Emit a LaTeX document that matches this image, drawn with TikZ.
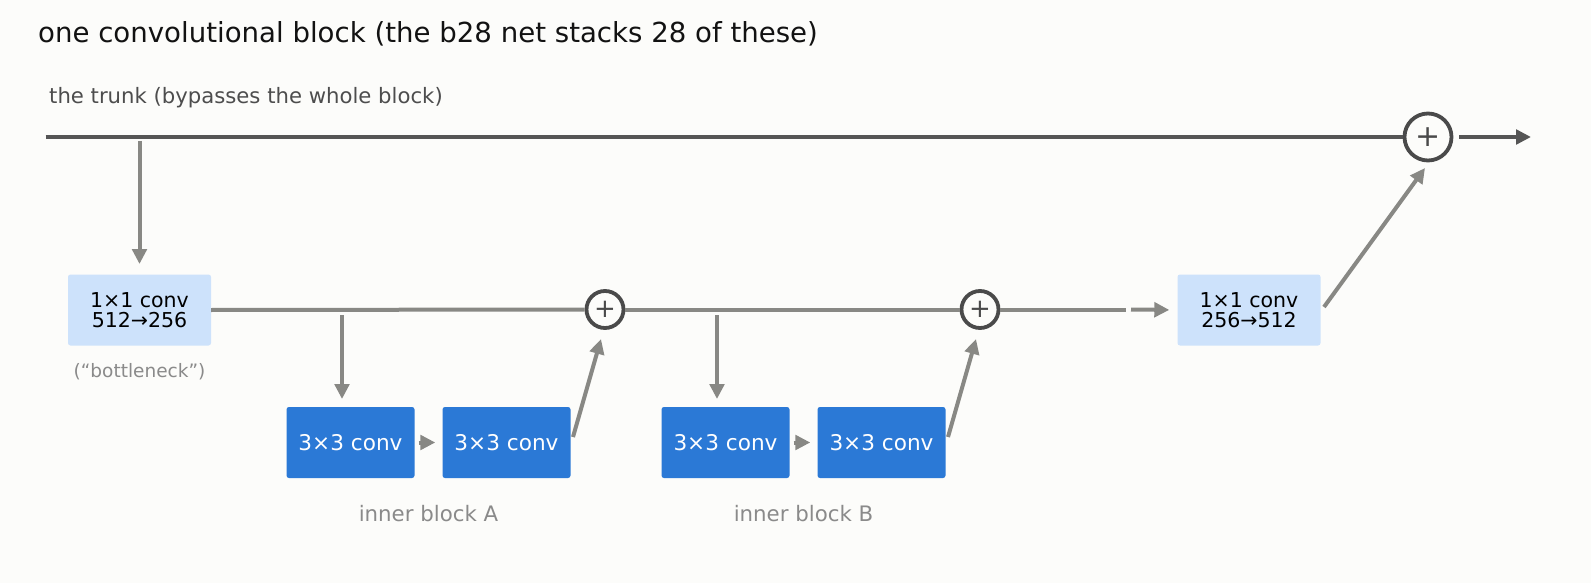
\documentclass[tikz,border=0pt]{standalone}
\usepackage{fontspec}
\setmainfont{DejaVu Sans}
\usetikzlibrary{arrows.meta}
\definecolor{bg}{HTML}{FCFCFA}
\definecolor{trunkc}{HTML}{555555}
\definecolor{grayc}{HTML}{888884}
\definecolor{ringc}{HTML}{4A4A4A}
\definecolor{lightb}{HTML}{CDE2FB}
\definecolor{darkb}{HTML}{2B79D6}
\definecolor{labgray}{HTML}{8A8A8A}
\definecolor{trunklab}{HTML}{4D4D4D}
\newcommand{\fsz}[1]{\fontsize{#1}{#1}\selectfont}
\begin{document}
\begin{tikzpicture}[x=1pt,y=-1pt,
  tipg/.style={-{Triangle[length=15pt,width=14.5pt]}},
  conn/.style={draw=grayc,line width=4pt},
  lightbox/.style={fill=lightb,rounded corners=2.5pt,minimum width=143pt,minimum height=71pt,inner sep=0pt,align=center,text=black,font=\fsz{20.5}},
  darkbox/.style={fill=darkb,rounded corners=2.5pt,minimum width=128pt,minimum height=71pt,inner sep=0pt,text=white,font=\fsz{21.6}},
  sumsmall/.style={circle,draw=ringc,line width=3.8pt,fill=bg,minimum size=37pt,inner sep=0pt,font=\fsz{26},text=ringc},
  sumbig/.style={circle,draw=ringc,line width=3.8pt,fill=bg,minimum size=47pt,inner sep=0pt,font=\fsz{30},text=ringc},
  lab/.style={text=labgray,inner sep=0pt}
]
\useasboundingbox (0,0) rectangle (1591,583);
\fill[bg] (0,0) rectangle (1591,583);

% title and trunk label
\node[anchor=west,inner sep=0pt,text=black!93,font=\fsz{27.6}] (title) at (38,34) {one convolutional block (the b28 net stacks 28 of these)};
\node[anchor=west,inner sep=0pt,text=trunklab,font=\fsz{21.2}] (trunklabel) at (49,97.5) {the trunk (bypasses the whole block)};

% trunk
\coordinate (tstart) at (45.5,137);
\node[sumbig] (sumT) at (1428,137) {+};
\coordinate (tend) at (1531,137);
\coordinate (tout) at (1459,137);
\draw[draw=trunkc,line width=4.8pt] (tstart) -- (sumT.west);
\draw[draw=trunkc,line width=4.8pt,-{Triangle[length=15pt,width=14.5pt]}] (tout) -- (tend);

% boxes
\node[lightbox] (c1) at (139.5,310) {1×1 conv\\512→256};
\node[lab,font=\fsz{18.5}] (bneck) at (139.5,372) {(“bottleneck”)};
\node[lightbox] (c2) at (1249,310) {1×1 conv\\256→512};

\node[darkbox] (a1) at (350.5,442.5) {3×3 conv};
\node[darkbox] (a2) at (506.5,442.5) {3×3 conv};
\node[darkbox] (b1) at (725.5,442.5) {3×3 conv};
\node[darkbox] (b2) at (881.5,442.5) {3×3 conv};

\node[lab,font=\fsz{21.3}] (labA) at (428.5,514) {inner block A};
\node[lab,font=\fsz{21.3}] (labB) at (803.5,514) {inner block B};

\node[sumsmall] (sA) at (605,309.5) {+};
\node[sumsmall] (sB) at (980,309.5) {+};

% trunk drop to bottleneck
\coordinate (d0) at (139.5,141);
\coordinate (d0e) at (139.5,264);
\draw[conn,tipg] (d0) -- (d0e);

% mid line
\draw[conn] (c1.east) -- (sA.west);
\draw[conn] (sA.east) -- (sB.west);
\coordinate (gapL) at (1126,309.5);
\coordinate (gapR) at (1131,309.5);
\draw[conn] (sB.east) -- (gapL);
\draw[conn,tipg,shorten >=8pt] (gapR) -- (c2.west);

% inner A
\coordinate (dA) at (342,315);
\coordinate (dAe) at (342,399);
\draw[conn,tipg] (dA) -- (dAe);
\draw[conn,tipg,shorten <=4pt,shorten >=7pt] (a1.east) -- (a2.west);
\coordinate (uA) at (573,437);
\coordinate (uAe) at (601,339);
\draw[conn,tipg] (uA) -- (uAe);

% inner B
\coordinate (dB) at (717,315);
\coordinate (dBe) at (717,399);
\draw[conn,tipg] (dB) -- (dBe);
\draw[conn,tipg,shorten <=4pt,shorten >=7pt] (b1.east) -- (b2.west);
\coordinate (uB) at (948,437);
\coordinate (uBe) at (976,339);
\draw[conn,tipg] (uB) -- (uBe);

% up to trunk sum
\coordinate (u2) at (1324,307);
\coordinate (u2e) at (1425,168);
\draw[conn,tipg] (u2) -- (u2e);
\end{tikzpicture}
\end{document}
